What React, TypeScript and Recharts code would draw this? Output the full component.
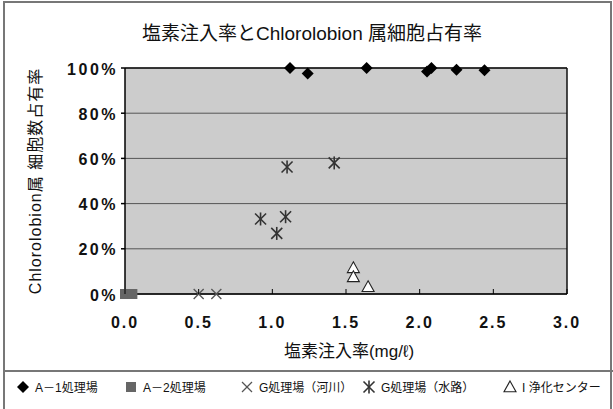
import React from 'react'
import {
  ScatterChart,
  Scatter,
  XAxis,
  YAxis,
  CartesianGrid,
  ReferenceLine,
  Label,
} from 'recharts'

// 塩素注入率 (mg/ℓ) vs Chlorolobion 属細胞数占有率 (%)
const plantA1: [number, number][] = [
  [1.12, 100],
  [1.24, 97.6],
  [1.64, 100],
  [2.05, 98.4],
  [2.08, 100],
  [2.25, 99.2],
  [2.44, 99.0],
]
const plantA2: [number, number][] = [
  [0.0, 0],
  [0.05, 0],
]
const plantGRiver: [number, number][] = [
  [0.5, 0],
  [0.62, 0],
]
const plantGChannel: [number, number][] = [
  [0.92, 33.2],
  [1.03, 26.8],
  [1.09, 34.2],
  [1.1, 56.2],
  [1.42, 58.0],
]
const plantI: [number, number][] = [
  [1.55, 11.6],
  [1.55, 7.6],
  [1.65, 3.2],
]

const xTicks = [0, 0.5, 1, 1.5, 2, 2.5, 3]
const yTicks = [0, 20, 40, 60, 80, 100]

const title = '塩素注入率とChlorolobion 属細胞占有率'
const xLabel = '塩素注入率(mg/ℓ)'
const yLabel = 'Chlorolobion属 細胞数占有率'

const legendItems = [
  { key: 'a1', label: 'A－1処理場', left: 16 },
  { key: 'a2', label: 'A－2処理場', left: 124 },
  { key: 'gr', label: 'G処理場（河川）', left: 240 },
  { key: 'gc', label: 'G処理場（水路）', left: 362 },
  { key: 'i', label: 'I 浄化センター', left: 503 },
]

const FONT = '"Liberation Sans", Arial, "Noto Sans CJK JP", sans-serif'

const toPoints = (arr: [number, number][]) => arr.map(([x, y]) => ({ x, y }))

function Diamond({ cx, cy }: any) {
  const r = 6
  return <polygon points={`${cx},${cy - r} ${cx + r},${cy} ${cx},${cy + r} ${cx - r},${cy}`} fill="#000" />
}

function Square({ cx, cy }: any) {
  return <rect x={cx - 5} y={cy - 5} width={10} height={10} fill="#666" />
}

function Cross({ cx, cy }: any) {
  const r = 5
  return (
    <g stroke="#555" strokeWidth={1.3}>
      <line x1={cx - r} y1={cy - r} x2={cx + r} y2={cy + r} />
      <line x1={cx - r} y1={cy + r} x2={cx + r} y2={cy - r} />
    </g>
  )
}

function Star({ cx, cy }: any) {
  const r = 5.5
  return (
    <g stroke="#333" strokeWidth={1.6}>
      <line x1={cx - r} y1={cy - r} x2={cx + r} y2={cy + r} />
      <line x1={cx - r} y1={cy + r} x2={cx + r} y2={cy - r} />
      <line x1={cx} y1={cy - r - 1} x2={cx} y2={cy + r + 1} />
    </g>
  )
}

function Triangle({ cx, cy }: any) {
  const r = 6
  return (
    <polygon
      points={`${cx},${cy - r} ${cx + r},${cy + r * 0.8} ${cx - r},${cy + r * 0.8}`}
      fill="#fff"
      stroke="#222"
      strokeWidth={1.1}
    />
  )
}

function LegendIcon({ kind }: { kind: string }) {
  const shapes: Record<string, React.ReactNode> = {
    a1: <Diamond cx={7} cy={7} />,
    a2: <Square cx={7} cy={7} />,
    gr: <Cross cx={7} cy={7} />,
    gc: <Star cx={7} cy={7} />,
    i: <Triangle cx={7} cy={7} />,
  }
  return (
    <svg width={14} height={14} style={{ marginRight: 5, overflow: 'visible' }}>
      {shapes[kind]}
    </svg>
  )
}

function XTick({ x, y, payload }: any) {
  return (
    <g>
      <line x1={x} y1={y - 5} x2={x} y2={y} stroke="#000" />
      <text
        x={x}
        y={y + 34}
        textAnchor="middle"
        fontSize={16}
        fontWeight="bold"
        letterSpacing={2}
        fill="#111"
        fontFamily={FONT}
      >
        {Number(payload.value).toFixed(1)}
      </text>
    </g>
  )
}

export default function App() {
  return (
    <div style={{ position: 'absolute', left: 0, top: 0, width: 613, height: 409, background: '#fff', fontFamily: FONT, overflow: 'hidden' }}>
      <div
        style={{
          position: 'absolute',
          left: 0,
          top: 18,
          width: 624,
          textAlign: 'center',
          fontSize: 19,
          color: '#111',
          whiteSpace: 'nowrap',
        }}
      >
        {title}
      </div>

      <div style={{ position: 'absolute', left: 0, top: 0 }}>
        <ScatterChart width={613} height={409} margin={{ top: 68, right: 46, bottom: 55, left: 65 }}>
          <CartesianGrid vertical={false} fill="#cccccc" stroke="#555" strokeWidth={1} />
          <XAxis
            type="number"
            dataKey="x"
            domain={[0, 3]}
            ticks={xTicks}
            height={60}
            stroke="#000"
            strokeWidth={1.5}
            tickLine={false}
            tickSize={0}
            tickMargin={0}
            tick={<XTick />}
          >
            <Label
              content={({ viewBox }: any) => (
                <text
                  x={viewBox.x + viewBox.width / 2 + 3}
                  y={viewBox.y + 63}
                  textAnchor="middle"
                  fontSize={17}
                  fill="#111"
                  fontFamily={FONT}
                >
                  {xLabel}
                </text>
              )}
            />
          </XAxis>
          <YAxis
            type="number"
            dataKey="y"
            domain={[0, 100]}
            ticks={yTicks}
            width={60}
            stroke="#000"
            strokeWidth={1.5}
            tickSize={4}
            tickMargin={3}
            tickFormatter={(v: number) => `${v}%`}
            tick={{ fontSize: 16, fontWeight: 'bold', fill: '#111', fontFamily: FONT, letterSpacing: 2.5, dy: 1 }}
          >
            <Label
              content={({ viewBox }: any) => {
                const cx = 35
                const cy = viewBox.y + viewBox.height / 2
                return (
                  <text
                    x={cx}
                    y={cy}
                    transform={`rotate(-90 ${cx} ${cy})`}
                    textAnchor="middle"
                    dominantBaseline="central"
                    fontSize={16}
                    letterSpacing={1}
                    fill="#111"
                    fontFamily={FONT}
                  >
                    {yLabel}
                  </text>
                )
              }}
            />
          </YAxis>
          <ReferenceLine y={100} stroke="#111" strokeWidth={1.5} />
          <ReferenceLine x={3} stroke="#111" strokeWidth={1.5} />
          <Scatter data={toPoints(plantGRiver)} shape={<Cross />} isAnimationActive={false} />
          <Scatter data={toPoints(plantGChannel)} shape={<Star />} isAnimationActive={false} />
          <Scatter data={toPoints(plantI)} shape={<Triangle />} isAnimationActive={false} />
          <Scatter data={toPoints(plantA2)} shape={<Square />} isAnimationActive={false} />
          <Scatter data={toPoints(plantA1)} shape={<Diamond />} isAnimationActive={false} />
        </ScatterChart>
      </div>

      {legendItems.map((item) => (
        <div
          key={item.key}
          style={{
            position: 'absolute',
            left: item.left,
            top: 378,
            display: 'flex',
            alignItems: 'center',
            fontSize: 12,
            color: '#111',
            whiteSpace: 'nowrap',
          }}
        >
          <LegendIcon kind={item.key} />
          <span>{item.label}</span>
        </div>
      ))}

      {/* outer frame and legend divider */}
      <div style={{ position: 'absolute', left: 3, top: 1, width: 609, height: 412, border: '2px solid #777', boxSizing: 'border-box', pointerEvents: 'none' }} />
      <div style={{ position: 'absolute', left: 3, top: 370, width: 610, height: 0, borderTop: '2px solid #777', pointerEvents: 'none' }} />
    </div>
  )
}
